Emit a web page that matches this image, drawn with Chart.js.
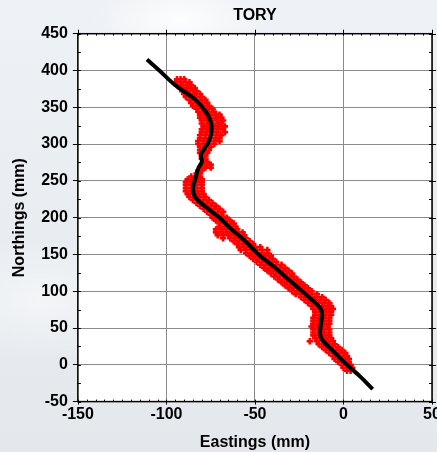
<!DOCTYPE html>
<html>
<head>
<meta charset="utf-8">
<script src="https://cdn.jsdelivr.net/npm/chart.js@4/dist/chart.umd.min.js"></script>
<style>
  html, body { margin: 0; padding: 0; overflow: hidden; }
  body {
    width: 437px; height: 452px;
    background:
      radial-gradient(ellipse 90px 40px at 180px 20px, rgba(255,255,255,0.9), rgba(255,255,255,0) 100%),
      radial-gradient(ellipse 120px 60px at 40px 300px, rgba(255,255,255,0.5), rgba(255,255,255,0) 100%),
      linear-gradient(180deg, #eef1f5 0%, #e8ecf0 60%, #e4e8ec 100%);
  }
  .wrap { position: absolute; left: 0; top: 0; width: 450px; height: 452px; }
</style>
</head>
<body>
<div class="wrap"><canvas id="toryChart"></canvas></div>
<script>
// centreline (black)
const centreE = [-111, -104, -95, -84, -78, -75, -74.5, -76, -79, -80.5, -80, -82, -83.5, -85, -83.5, -77, -70, -64, -55, -47, -39, -32, -21, -13, -12, -13, -12.5, -5.5, 2, 9.5, 16.5];
const centreN = [415, 400, 380, 361, 345, 331, 317, 304, 292, 286, 276, 267, 254, 240, 227, 213, 200, 186, 167, 148, 133, 118, 95, 77, 68, 50, 36, 18, 0, -16, -33];

// measured points (red crosses): each row = [northing, eastings...]
const measuredRows = [
  [388, -94, -92, -90],
  [384, -95, -92, -89, -87],
  [380, -94, -91, -88, -86],
  [376, -92, -89, -86, -84],
  [372, -91, -88, -85, -83],
  [368, -90, -87, -84, -81],
  [364, -89, -86, -83, -80],
  [360, -87, -84, -81, -78],
  [356, -86, -83, -80, -77],
  [352, -85, -82, -79, -76],
  [348, -83, -80, -77, -74],
  [344, -82, -79, -76, -73],
  [340, -81, -78, -75, -72, -70],
  [336, -81, -78, -75, -72, -69],
  [332, -80, -77, -74, -71, -68],
  [328, -80, -77, -74, -71, -69],
  [324, -79, -76, -73, -70, -67],
  [320, -80, -77, -74, -71, -68],
  [316, -80, -77, -74, -71, -67],
  [312, -81, -78, -75, -72, -69],
  [308, -81, -78, -75, -72, -70],
  [304, -82, -79, -76, -73, -70],
  [300, -82, -79, -76, -73],
  [296, -81, -78, -75],
  [292, -81, -78, -76],
  [288, -81, -79, -77],
  [284, -80, -78],
  [280, -80, -78],
  [276, -79, -77],
  [272, -80, -77, -75],
  [268, -80, -78, -75],
  [264, -82, -80],
  [260, -83, -81],
  [256, -86, -83, -81],
  [252, -88, -85, -82, -80],
  [248, -89, -86, -83, -80],
  [244, -89, -86, -83, -80],
  [240, -89, -86, -83, -80],
  [236, -89, -86, -83, -80],
  [232, -88, -85, -82, -79],
  [228, -87, -84, -81, -78],
  [224, -85, -82, -79, -76],
  [220, -83, -80, -77, -74],
  [216, -81, -78, -75, -72],
  [212, -79, -76, -73, -70],
  [208, -77, -74, -71, -68],
  [204, -75, -72, -69],
  [200, -74, -71, -68, -66],
  [196, -72, -69, -66, -64],
  [192, -70, -67, -64, -62],
  [188, -70, -67, -64, -61],
  [184, -72, -69, -66, -63, -60],
  [180, -72, -69, -66, -63, -60, -57],
  [176, -71, -68, -65, -62, -59, -56],
  [172, -68, -64, -61, -58, -55],
  [168, -62, -59, -56, -53],
  [164, -60, -57, -54, -51],
  [160, -59, -56, -53, -50, -47],
  [156, -58, -55, -52, -49, -46, -43],
  [152, -55, -52, -49, -46, -43],
  [148, -53, -50, -47, -44, -41],
  [144, -51, -48, -45, -42, -40],
  [140, -49, -46, -43, -40, -38],
  [136, -47, -44, -41, -38, -35],
  [132, -45, -42, -39, -36, -33],
  [128, -43, -40, -37, -34, -31],
  [124, -41, -38, -35, -32, -29],
  [120, -39, -36, -33, -30, -28],
  [116, -37, -34, -31, -28, -26],
  [112, -35, -32, -29, -26, -24],
  [108, -33, -30, -27, -24, -22],
  [104, -31, -28, -25, -22, -20],
  [100, -29, -26, -23, -20, -18],
  [96, -27, -24, -21, -18, -15],
  [92, -24, -21, -18, -15, -12],
  [88, -22, -19, -16, -13, -10],
  [84, -20, -17, -14, -11, -8],
  [80, -18, -15, -12, -9, -7],
  [76, -17, -14, -11, -8, -6],
  [72, -16, -13, -10, -7],
  [68, -16, -13, -10, -7],
  [64, -17, -14, -11, -8],
  [60, -17, -14, -11, -8],
  [56, -17, -14, -11, -8],
  [52, -18, -15, -12, -9],
  [48, -17, -14, -11, -8],
  [44, -17, -14, -11, -8],
  [40, -17, -14, -11, -8],
  [36, -16, -13, -10, -7],
  [32, -19, -15, -12, -9, -6],
  [28, -14, -11, -8, -5],
  [24, -12, -9, -6, -3],
  [20, -10, -7, -4, -1],
  [16, -8, -5, -2, 1],
  [12, -6, -3, 0, 2],
  [8, -5, -2, 1, 3],
  [4, -3, 0, 3],
  [0, -1, 2, 4],
  [-4, 0, 3, 5],
  [-8, 2, 4]
];

const xTicks = [-150, -100, -50, 0, 50];
const yTicks = [-50, 0, 50, 100, 150, 200, 250, 300, 350, 400, 450];

const centrePoints = centreE.map((e, i) => ({ x: e, y: centreN[i] }));
const measuredPoints = [];
measuredRows.forEach(row => {
    row.slice(1).forEach(e => measuredPoints.push({ x: e, y: row[0] }));
});

// white plot area + minor ticks on all four sides
const frameDecor = {
    id: 'frameDecor',
    beforeDraw(chart) {
        const a = chart.chartArea;
        const ctx = chart.ctx;
        ctx.save();
        ctx.fillStyle = '#ffffff';
        ctx.fillRect(a.left, a.top, a.right - a.left, a.bottom - a.top);
        ctx.restore();
    },
    afterDraw(chart) {
        const a = chart.chartArea;
        const ctx = chart.ctx;
        const xs = chart.scales.x, ys = chart.scales.y;
        ctx.save();
        ctx.strokeStyle = '#000';
        ctx.lineWidth = 1;
        ctx.beginPath();
        for (let v = -150; v <= 50; v += 5) {
            const px = Math.round(xs.getPixelForValue(v)) + 0.5;
            ctx.moveTo(px, a.top); ctx.lineTo(px, a.top + 2);
            ctx.moveTo(px, a.bottom); ctx.lineTo(px, a.bottom - 2);
            if (v % 50 === 0) {
                ctx.moveTo(px, a.top); ctx.lineTo(px, a.top - 4);
                ctx.moveTo(px, a.bottom); ctx.lineTo(px, a.bottom + 3);
            }
        }
        for (let v = -50; v <= 450; v += 25) {
            const py = Math.round(ys.getPixelForValue(v)) + 0.5;
            ctx.moveTo(a.left, py); ctx.lineTo(a.left + 3, py);
            ctx.moveTo(a.right, py); ctx.lineTo(a.right - 3, py);
            if (v % 50 === 0) { ctx.moveTo(a.right, py); ctx.lineTo(a.right + 4, py); }
        }
        ctx.stroke();
        ctx.lineWidth = 1.5;
        ctx.strokeRect(a.left, a.top, a.right - a.left, a.bottom - a.top);
        ctx.restore();
    }
};

const tickFont = { family: 'Liberation Sans, Arial, sans-serif', size: 16, weight: 'bold' };

new Chart(document.getElementById('toryChart'), {
    type: 'scatter',
    data: {
        datasets: [
            {
                label: 'Centreline',
                data: centrePoints,
                showLine: true,
                borderColor: '#000000',
                borderWidth: 4,
                pointRadius: 0,
                tension: 0.35
            },
            {
                label: 'Measured',
                data: measuredPoints,
                pointStyle: 'cross',
                pointRadius: 3.2,
                borderColor: '#ff0000',
                backgroundColor: '#ff0000',
                pointBorderWidth: 2.6
            }
        ]
    },
    options: {
        responsive: true,
        maintainAspectRatio: false,
        animation: false,
        layout: { padding: { left: 10, right: 18, top: 2, bottom: 0 } },
        scales: {
            x: {
                type: 'linear',
                min: -150,
                max: 50,
                afterBuildTicks: s => { s.ticks = xTicks.map(v => ({ value: v })); },
                ticks: { font: tickFont, color: '#000', padding: 3 },
                grid: { color: '#8a8a8a', lineWidth: 1, drawTicks: false },
                border: { display: false },
                title: { display: true, text: 'Eastings (mm)', font: tickFont, color: '#000', padding: { top: 6, bottom: 0 } }
            },
            y: {
                type: 'linear',
                min: -50,
                max: 450,
                afterBuildTicks: s => { s.ticks = yTicks.map(v => ({ value: v })); },
                ticks: { font: tickFont, color: '#000', padding: 5 },
                grid: { color: '#8a8a8a', lineWidth: 1, tickColor: '#000', tickLength: 5 },
                border: { display: false },
                title: { display: true, text: 'Northings (mm)', font: tickFont, color: '#000', padding: { top: 0, bottom: 7 } }
            }
        },
        plugins: {
            legend: { display: false },
            tooltip: { enabled: false },
            title: {
                display: true,
                fullSize: false,
                text: 'TORY',
                font: tickFont,
                color: '#000',
                padding: { top: 4, bottom: 8.5 }
            }
        }
    },
    plugins: [frameDecor]
});
</script>
</body>
</html>
